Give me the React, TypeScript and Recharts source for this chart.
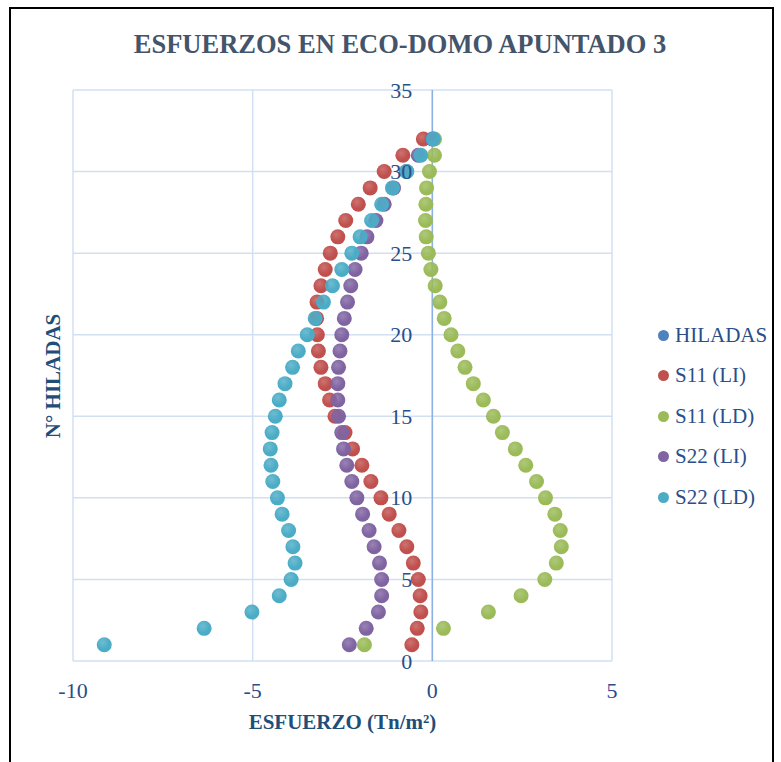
import { ScatterChart, Scatter, XAxis, YAxis, CartesianGrid, ReferenceLine } from 'recharts'

// Nº de hilada (eje Y)
const hiladas = [
  1, 2, 3, 4, 5, 6, 7, 8, 9, 10, 11, 12, 13, 14, 15, 16,
  17, 18, 19, 20, 21, 22, 23, 24, 25, 26, 27, 28, 29, 30, 31, 32,
]

// esfuerzos (Tn/m²) por hilada, de la 1 a la 32
const s11Li = [
  -0.57, -0.42, -0.32, -0.34, -0.39, -0.53, -0.71, -0.93, -1.2, -1.43, -1.71, -1.96, -2.22, -2.43, -2.71, -2.86,
  -2.98, -3.1, -3.17, -3.2, -3.22, -3.21, -3.1, -2.98, -2.84, -2.63, -2.41, -2.06, -1.73, -1.34, -0.82, -0.25,
]
const s11Ld = [
  -1.89, 0.31, 1.56, 2.47, 3.13, 3.45, 3.59, 3.56, 3.41, 3.15, 2.9, 2.6, 2.31, 1.95, 1.7, 1.42,
  1.14, 0.91, 0.71, 0.52, 0.33, 0.21, 0.08, -0.04, -0.11, -0.17, -0.19, -0.18, -0.16, -0.08, 0.06, 0.06,
]
const s22Li = [
  -2.31, -1.84, -1.5, -1.41, -1.41, -1.47, -1.62, -1.76, -1.94, -2.1, -2.24, -2.38, -2.47, -2.52, -2.61, -2.63,
  -2.63, -2.61, -2.57, -2.52, -2.45, -2.36, -2.27, -2.15, -1.98, -1.82, -1.57, -1.34, -1.08, -0.72, -0.39, 0.0,
]
const s22Ld = [
  -9.13, -6.35, -5.02, -4.26, -3.93, -3.82, -3.88, -4.0, -4.18, -4.31, -4.44, -4.49, -4.51, -4.46, -4.37, -4.26,
  -4.1, -3.89, -3.73, -3.48, -3.26, -3.03, -2.78, -2.52, -2.24, -2.01, -1.69, -1.41, -1.11, -0.71, -0.32, 0.03,
]

const xTicks = [-10, -5, 0, 5]
const yTicks = [0, 5, 10, 15, 20, 25, 30, 35]

const series = [
  { name: 'S11 (LI)', values: s11Li, color: '#C0504D' },
  { name: 'S11 (LD)', values: s11Ld, color: '#9BBB59' },
  { name: 'S22 (LI)', values: s22Li, color: '#8064A2' },
  { name: 'S22 (LD)', values: s22Ld, color: '#4BACC6' },
]
const legendItems = [{ name: 'HILADAS', color: '#4F81BD' }, ...series]

const W = 781
const H = 762
const PLOT_LEFT = 73
const PLOT_RIGHT = 612
const PLOT_TOP = 90
const PLOT_BOTTOM = 661
const X_MIN = -10
const X_MAX = 5
const FONT = '"Liberation Serif", "Times New Roman", serif'
const TICK_COLOR = '#2A4E8A'
const TITLE_COLOR = '#1F4E79'

const toPoints = (values: number[]) => values.map((v, i) => ({ x: v, y: hiladas[i] }))

function YTick({ y, payload }: any) {
  // las etiquetas del eje Y van junto a la linea x = 0
  const x0 = PLOT_LEFT + ((PLOT_RIGHT - PLOT_LEFT) * (0 - X_MIN)) / (X_MAX - X_MIN)
  return (
    <text x={x0 - 20} y={y} textAnchor="end" dominantBaseline="central" fontSize={22} fill={TICK_COLOR} fontFamily={FONT}>
      {payload.value}
    </text>
  )
}

function XTick({ x, payload }: any) {
  return (
    <text x={x} y={PLOT_BOTTOM + 29} textAnchor="middle" dominantBaseline="central" fontSize={22} fill={TICK_COLOR} fontFamily={FONT}>
      {payload.value}
    </text>
  )
}

const makeDot = (id: string) => (p: any) => <circle cx={p.cx} cy={p.cy} r={7.5} fill={`url(#${id})`} />

export default function App() {
  return (
    <div style={{ position: 'fixed', left: 0, top: 0, width: W, height: H, overflow: 'hidden', background: '#fff' }}>
      <div
        style={{
          position: 'absolute', left: 9, top: 7, width: 761, height: 800,
          border: '2px solid #000',
        }}
      />
      <div
        style={{
          position: 'absolute', left: 100, width: 600, top: 27, textAlign: 'center',
          fontFamily: FONT, fontWeight: 'bold', fontSize: 26.5, color: '#44546A', lineHeight: '34px',
        }}
      >
        ESFUERZOS EN ECO-DOMO APUNTADO 3
      </div>
      <div
        style={{
          position: 'absolute', left: 53, top: (PLOT_TOP + PLOT_BOTTOM) / 2,
          transform: 'translate(-50%, -50%) rotate(-90deg)', whiteSpace: 'nowrap',
          fontFamily: FONT, fontWeight: 'bold', fontSize: 21, color: TITLE_COLOR,
        }}
      >
        N° HILADAS
      </div>
      <div
        style={{
          position: 'absolute', left: PLOT_LEFT, width: PLOT_RIGHT - PLOT_LEFT, top: 709, textAlign: 'center',
          fontFamily: FONT, fontWeight: 'bold', fontSize: 21, color: TITLE_COLOR, lineHeight: '26px',
        }}
      >
        ESFUERZO (Tn/m²)
      </div>
      <div style={{ position: 'absolute', left: 658, top: 315, fontFamily: FONT, fontSize: 21, color: TICK_COLOR }}>
        {legendItems.map((it) => (
          <div key={it.name} style={{ display: 'flex', alignItems: 'center', height: 40.5 }}>
            <span style={{ width: 11, height: 11, borderRadius: '50%', background: it.color, marginRight: 6 }} />
            <span>{it.name}</span>
          </div>
        ))}
      </div>

      <div style={{ position: 'absolute', left: 0, top: 0 }}>
        <ScatterChart
          width={W}
          height={H}
          margin={{ top: PLOT_TOP, right: W - PLOT_RIGHT, bottom: H - PLOT_BOTTOM - 30, left: PLOT_LEFT - 10 }}
        >
          <defs>
            {series.map((s, i) => (
              <radialGradient key={s.name} id={`dot${i}`} cx="40%" cy="35%" r="65%">
                <stop offset="0%" stopColor={s.color} stopOpacity={0.8} />
                <stop offset="70%" stopColor={s.color} />
                <stop offset="100%" stopColor={s.color} />
              </radialGradient>
            ))}
          </defs>
          <CartesianGrid stroke="#D2DFF3" strokeWidth={1.5} />
          <XAxis
            type="number"
            dataKey="x"
            domain={[X_MIN, X_MAX]}
            ticks={xTicks}
            height={30}
            axisLine={false}
            tickLine={false}
            tick={<XTick />}
          />
          <YAxis
            type="number"
            dataKey="y"
            domain={[0, 35]}
            ticks={yTicks}
            width={10}
            axisLine={false}
            tickLine={false}
            tick={<YTick />}
          />
          <ReferenceLine x={0} stroke="#8DB0E2" strokeWidth={1.5} />
          {series.map((s, i) => (
            <Scatter
              key={s.name}
              name={s.name}
              data={toPoints(s.values)}
              fill={s.color}
              shape={makeDot(`dot${i}`)}
              isAnimationActive={false}
            />
          ))}
        </ScatterChart>
      </div>
    </div>
  )
}
